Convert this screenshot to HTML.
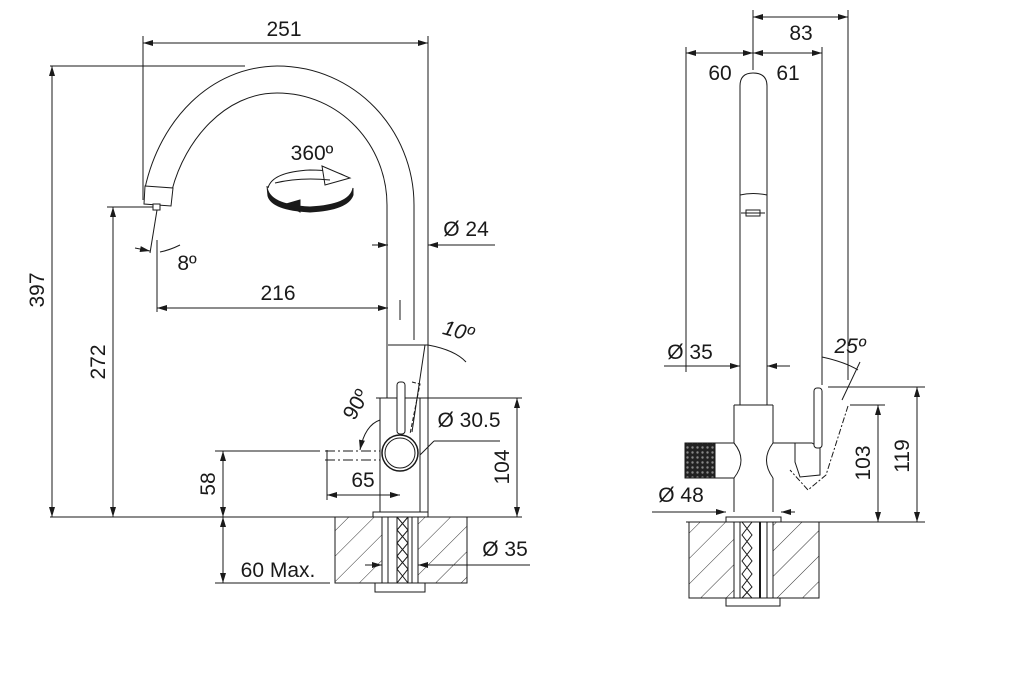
<!DOCTYPE html>
<html><head><meta charset="utf-8"><style>
html,body{margin:0;padding:0;background:#fff}
svg{display:block}
text{font-family:"Liberation Sans",Arial,sans-serif;font-size:21px;fill:#1a1a1a}
</style></head><body>
<svg width="1016" height="674" viewBox="0 0 1016 674" xmlns="http://www.w3.org/2000/svg">
<defs>
<marker id="a" viewBox="0 0 10 6" refX="10" refY="3" markerWidth="14" markerHeight="6" markerUnits="userSpaceOnUse" orient="auto-start-reverse"><path d="M0,0L10,3L0,6z" fill="#1a1a1a"/></marker>
<pattern id="h" width="18" height="18" patternUnits="userSpaceOnUse" patternTransform="rotate(45)"><line x1="0" y1="0" x2="0" y2="18" stroke="#333" stroke-width="1"/></pattern>
<pattern id="k" width="5" height="5" patternUnits="userSpaceOnUse"><rect width="5" height="5" fill="#222"/><circle cx="2.5" cy="2.5" r="1.2" fill="#888"/></pattern>
</defs>
<g stroke="#1a1a1a" stroke-width="1" fill="none">
<!-- LEFT VIEW -->
<line x1="143" y1="36" x2="143" y2="200"/><line x1="428" y1="36" x2="428" y2="517"/>
<line x1="143" y1="43" x2="428" y2="43" marker-start="url(#a)" marker-end="url(#a)"/>
<line x1="50" y1="66" x2="245" y2="66"/>
<line x1="52" y1="66" x2="52" y2="517" marker-start="url(#a)" marker-end="url(#a)"/>
<line x1="107" y1="207" x2="158" y2="207"/>
<line x1="113" y1="207" x2="113" y2="517" marker-start="url(#a)" marker-end="url(#a)"/>
<!-- spout -->
<path d="M145,188 C160,120 210,67 277,66 C355,66 414,130 414,205 L414,340"/>
<path d="M172,190 C185,140 225,93 277,93 C340,93 387,145 387,205 L387,398"/>
<line x1="400" y1="300" x2="400" y2="320"/>
<path d="M145,186 L173,188 L171,206 L144,204 Z" fill="#fff"/>
<rect x="153" y="204" width="7" height="6" fill="#fff"/>
<line x1="157" y1="210" x2="150" y2="253"/>
<path d="M160,252 Q170,250 180,245"/>
<line x1="135" y1="248" x2="150" y2="251" marker-end="url(#a)"/>
<line x1="157" y1="240" x2="157" y2="312"/>
<line x1="157" y1="308" x2="388" y2="308" marker-start="url(#a)" marker-end="url(#a)"/>
<!-- Ø24 -->
<line x1="372" y1="245" x2="388" y2="245" marker-end="url(#a)"/>
<line x1="495" y1="245" x2="428" y2="245" marker-end="url(#a)"/>
<!-- rotation icon -->
<path d="M268,188 Q272,172 310,170 Q335,170 345,176"/>
<path d="M322,166 L350,178 L325,185 Z" fill="#fff"/>
<path d="M275,183 Q300,177 330,180"/>
<path d="M267,186 Q268,205 310,207 Q350,205 353,188 L353,195 Q348,210 310,212 Q272,210 268,196 Z" fill="#1a1a1a"/>
<path d="M300,200 L286,204 L300,212 Z" fill="#1a1a1a"/>
<!-- body -->
<line x1="380" y1="398" x2="380" y2="512"/><line x1="420" y1="398" x2="420" y2="512"/>
<line x1="376" y1="398" x2="428" y2="398"/>
<rect x="397" y="382" width="8" height="52" rx="3" fill="#fff"/>
<path d="M412,382 L420,384 L410,434" stroke-dasharray="4,2"/>
<circle cx="400" cy="453" r="18" fill="#fff" stroke-width="1.5"/>
<circle cx="400" cy="453" r="15"/>
<path d="M388,345 L428,345 Q455,350 466,362" />
<line x1="425" y1="345" x2="412" y2="432"/>
<path d="M380,420 Q365,425 360,450" marker-end="url(#a)"/>
<line x1="325" y1="451" x2="380" y2="451" stroke-dasharray="10,3,2,3"/>
<line x1="325" y1="460" x2="380" y2="460" stroke-dasharray="10,3,2,3"/>
<line x1="215" y1="451" x2="320" y2="451"/>
<line x1="327" y1="450" x2="327" y2="500"/>
<line x1="327" y1="495" x2="400" y2="495" marker-start="url(#a)" marker-end="url(#a)"/>
<line x1="420" y1="455" x2="434" y2="441"/><line x1="434" y1="441" x2="500" y2="441"/>
<line x1="428" y1="398" x2="522" y2="398"/>
<line x1="517" y1="398" x2="517" y2="517" marker-start="url(#a)" marker-end="url(#a)"/>
<line x1="50" y1="517" x2="522" y2="517"/>
<line x1="223" y1="451" x2="223" y2="517" marker-start="url(#a)" marker-end="url(#a)"/>
<line x1="223" y1="517" x2="223" y2="583" marker-start="url(#a)" marker-end="url(#a)"/>
<line x1="215" y1="583" x2="330" y2="583"/>
<rect x="335" y="517" width="132" height="66" fill="url(#h)"/>
<rect x="382" y="517" width="36" height="66" fill="#fff"/>
<line x1="388" y1="517" x2="388" y2="583"/><line x1="412" y1="517" x2="412" y2="583"/>
<path d="M397,517 L408,530 L397,543 L408,556 L397,569 L408,583 M408,517 L397,530 L408,543 L397,556 L408,569 L397,583"/>
<line x1="397" y1="517" x2="397" y2="583"/><line x1="408" y1="517" x2="408" y2="583"/>
<rect x="373" y="512" width="55" height="5" fill="#fff"/>
<rect x="375" y="583" width="50" height="9" fill="#fff"/>
<line x1="365" y1="565" x2="382" y2="565" marker-end="url(#a)"/>
<line x1="530" y1="565" x2="418" y2="565" marker-end="url(#a)"/>
<!-- RIGHT VIEW -->
<line x1="753" y1="10" x2="753" y2="70"/><line x1="848" y1="10" x2="848" y2="380"/>
<line x1="686" y1="47" x2="686" y2="372"/><line x1="822" y1="47" x2="822" y2="385"/>
<line x1="753" y1="17" x2="848" y2="17" marker-start="url(#a)" marker-end="url(#a)"/>
<line x1="686" y1="53" x2="753" y2="53" marker-start="url(#a)" marker-end="url(#a)"/>
<line x1="753" y1="53" x2="822" y2="53" marker-start="url(#a)" marker-end="url(#a)"/>
<path d="M740,405 L740,86 Q740,73 753,73 Q767,73 767,86 L767,405"/>
<path d="M740,195 Q753,192 767,195"/>
<path d="M741,213 L765,213 M746,210 L760,210 L760,216 L746,216 Z"/>
<line x1="734" y1="405" x2="773" y2="405"/>
<line x1="734" y1="405" x2="734" y2="443"/><line x1="773" y1="405" x2="773" y2="443"/>
<line x1="734" y1="478" x2="734" y2="512"/><line x1="773" y1="478" x2="773" y2="512"/>
<path d="M734,443 Q748,460 734,478"/><path d="M773,443 Q760,460 773,478"/>
<rect x="685" y="443" width="30" height="35" fill="url(#k)"/>
<line x1="715" y1="443" x2="734" y2="443"/><line x1="715" y1="478" x2="734" y2="478"/>
<path d="M773,443 L812,443 L820,448 L820,475 L800,477 L795,462 L795,443"/>
<rect x="814" y="388" width="8" height="60" rx="3" fill="#fff"/>
<path d="M848,406 L826,475 L808,490 L790,470" stroke-dasharray="6,2,2,2"/>
<path d="M822,357 Q845,362 858,370"/>
<line x1="860" y1="362" x2="842" y2="400"/>
<line x1="664" y1="366" x2="740" y2="366" marker-end="url(#a)"/>
<line x1="790" y1="366" x2="767" y2="366" marker-end="url(#a)"/>
<line x1="828" y1="387" x2="925" y2="387"/><line x1="850" y1="405" x2="885" y2="405"/>
<line x1="878" y1="405" x2="878" y2="522" marker-start="url(#a)" marker-end="url(#a)"/>
<line x1="917" y1="387" x2="917" y2="522" marker-start="url(#a)" marker-end="url(#a)"/>
<line x1="686" y1="522" x2="925" y2="522"/>
<line x1="652" y1="512" x2="726" y2="512" marker-end="url(#a)"/>
<line x1="795" y1="512" x2="781" y2="512" marker-end="url(#a)"/>
<rect x="689" y="522" width="130" height="76" fill="url(#h)"/>
<rect x="734" y="522" width="39" height="76" fill="#fff"/>
<line x1="740" y1="522" x2="740" y2="598"/><line x1="767" y1="522" x2="767" y2="598"/>
<path d="M742,522 L752,535 L742,548 L752,561 L742,574 L752,587 L742,598 M752,522 L742,535 L752,548 L742,561 L752,574 L742,587 L752,598"/>
<line x1="760" y1="522" x2="760" y2="598" stroke-width="2"/>
<rect x="726" y="517" width="55" height="5" fill="#fff"/>
<rect x="726" y="598" width="54" height="8" fill="#fff"/>
</g>
<g>
<text x="284" y="36" text-anchor="middle">251</text>
<text x="312" y="160" text-anchor="middle">360º</text>
<text x="466" y="236" text-anchor="middle">Ø 24</text>
<text x="187" y="270" text-anchor="middle">8º</text>
<text x="278" y="300" text-anchor="middle">216</text>
<text x="458" y="338" text-anchor="middle" font-style="italic" transform="rotate(15 458 332)">10º</text>
<text x="0" y="0" text-anchor="middle" transform="translate(362 408) rotate(-60)">90º</text>
<text x="469" y="427" text-anchor="middle">Ø 30.5</text>
<text x="363" y="487" text-anchor="middle">65</text>
<text x="0" y="0" text-anchor="middle" transform="translate(44 290) rotate(-90)">397</text>
<text x="0" y="0" text-anchor="middle" transform="translate(105 362) rotate(-90)">272</text>
<text x="0" y="0" text-anchor="middle" transform="translate(215 484) rotate(-90)">58</text>
<text x="0" y="0" text-anchor="middle" transform="translate(509 467) rotate(-90)">104</text>
<text x="278" y="577" text-anchor="middle">60 Max.</text>
<text x="505" y="556" text-anchor="middle">Ø 35</text>
<text x="801" y="40" text-anchor="middle">83</text>
<text x="720" y="80" text-anchor="middle">60</text>
<text x="788" y="80" text-anchor="middle">61</text>
<text x="690" y="359" text-anchor="middle">Ø 35</text>
<text x="850" y="353" text-anchor="middle" font-style="italic">25º</text>
<text x="0" y="0" text-anchor="middle" transform="translate(870 463) rotate(-90)">103</text>
<text x="0" y="0" text-anchor="middle" transform="translate(909 456) rotate(-90)">119</text>
<text x="681" y="502" text-anchor="middle">Ø 48</text>
</g>
</svg>
</body></html>
